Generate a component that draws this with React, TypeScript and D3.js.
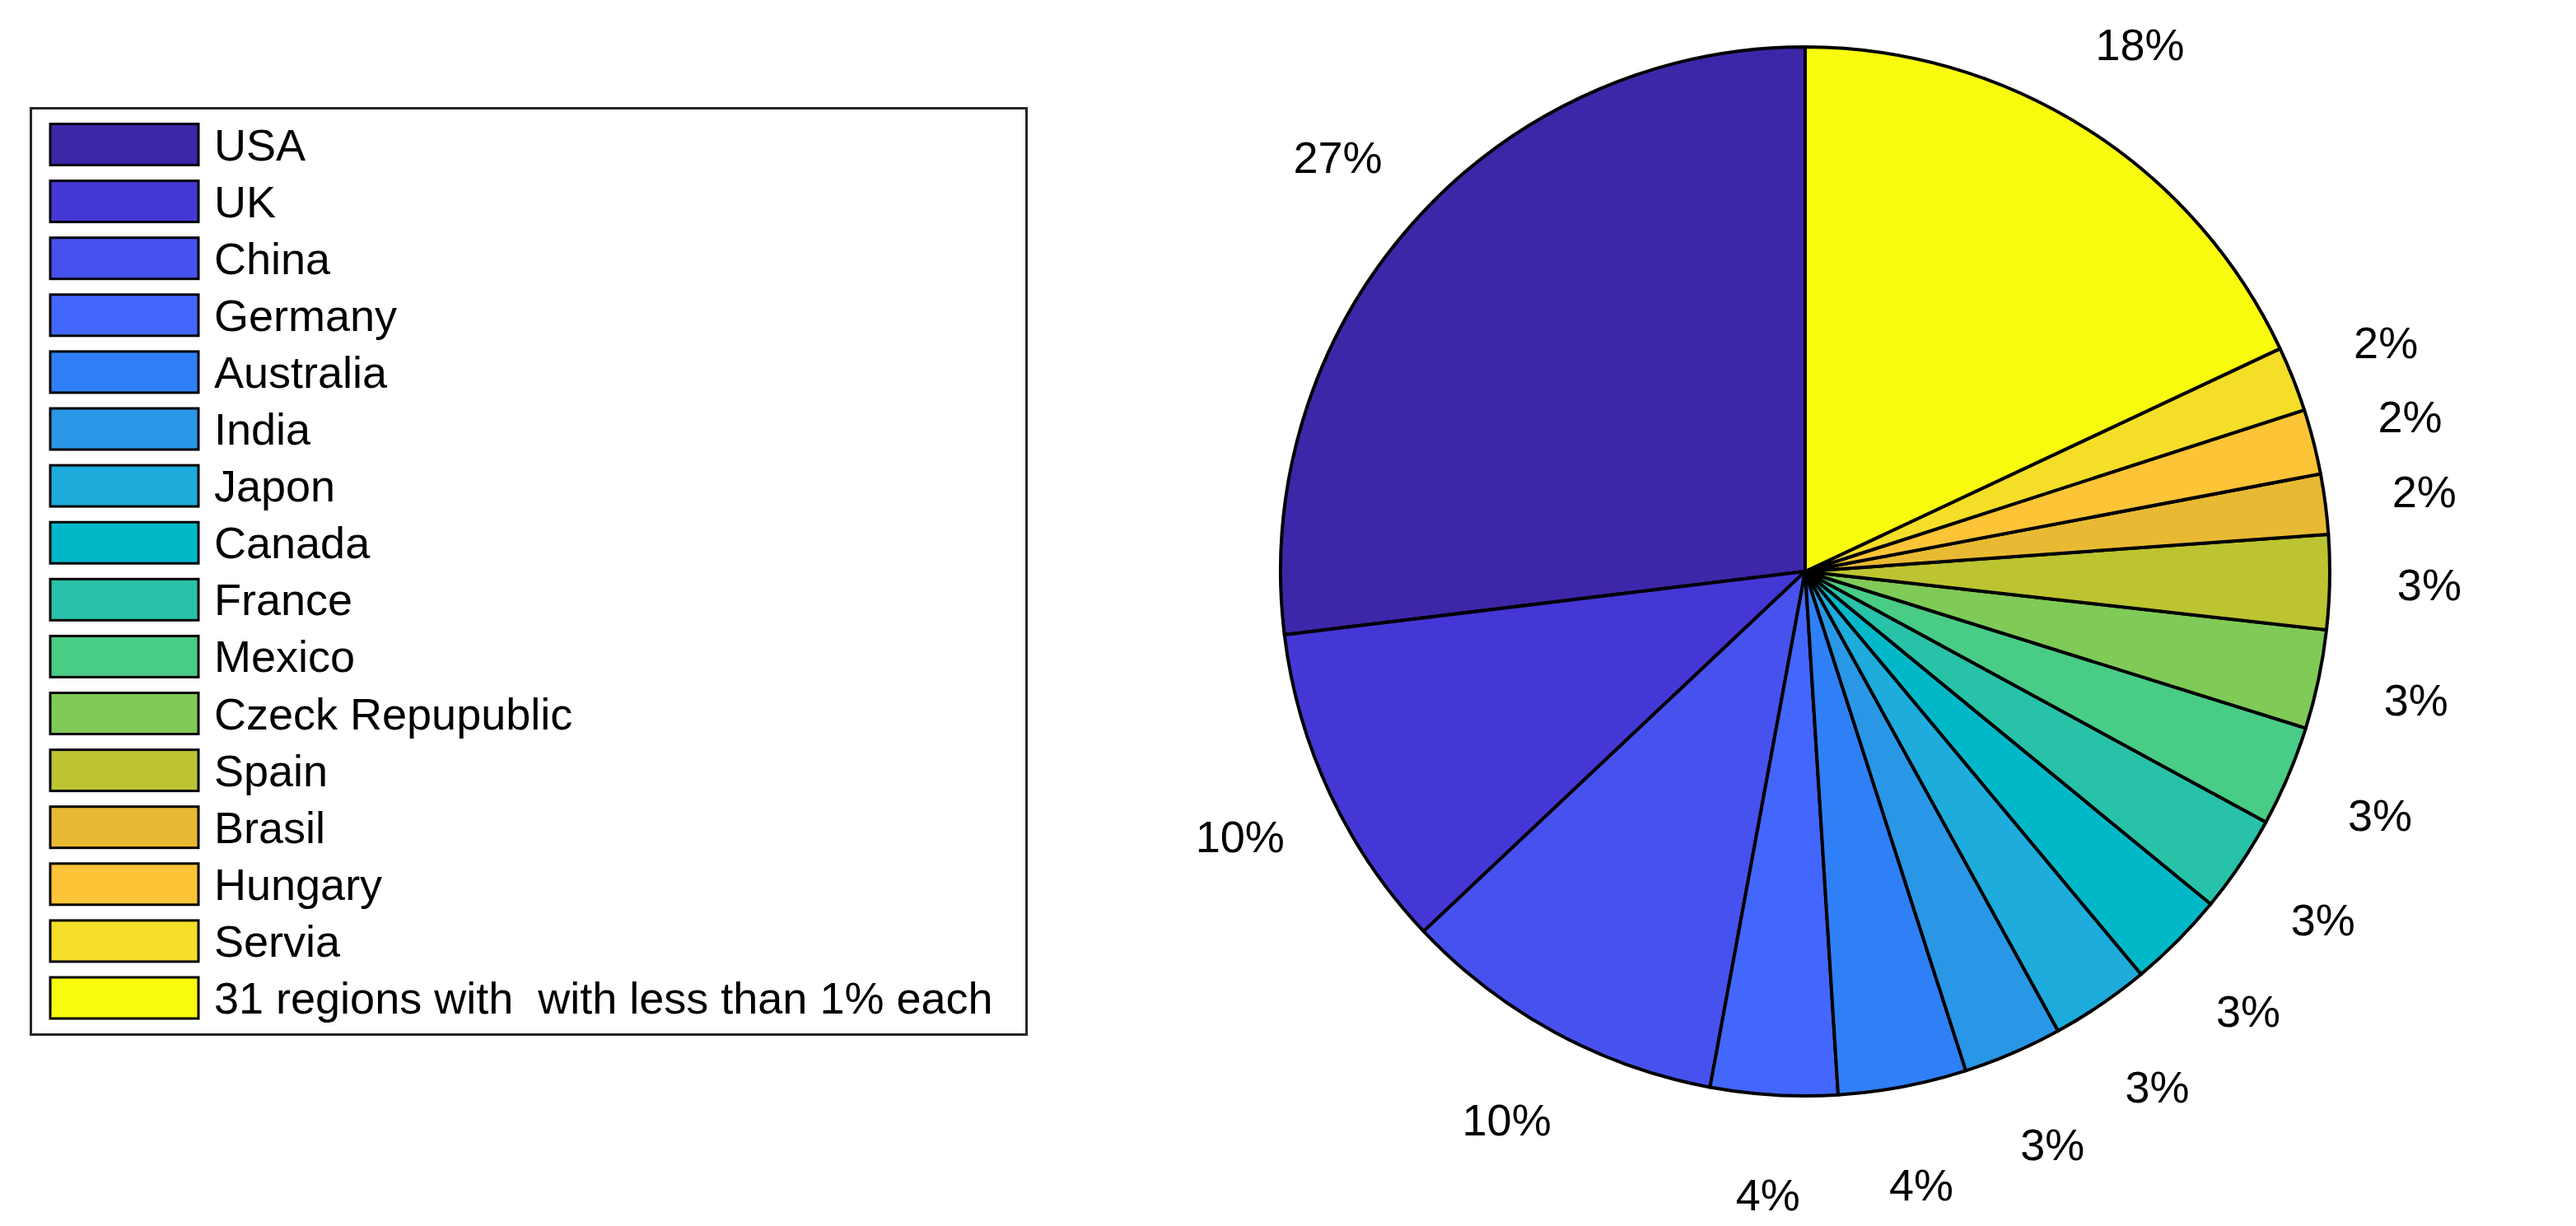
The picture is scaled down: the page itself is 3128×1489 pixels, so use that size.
import React from "react";
import * as d3 from "d3";

const categories = [
  "USA", "UK", "China", "Germany", "Australia", "India", "Japon", "Canada",
  "France", "Mexico", "Czeck Repupublic", "Spain", "Brasil", "Hungary", "Servia",
  "31 regions with  with less than 1% each",
];
const values = [26.9, 10.1, 10.05, 3.9, 3.95, 3.05, 3.05, 3.0, 3.0, 3.1, 3.05, 2.9, 1.85, 2.0, 2.0, 18.0];
const colors = [
  "#3E26A8", "#4537D5", "#4751EE", "#4367FD", "#2F80F7", "#2997E6", "#1DACDC", "#01B8C9",
  "#28C2A9", "#48CC86", "#80CA58", "#BCC432", "#E8BA33", "#FEC437", "#F5DE28", "#F9FB0E",
];

const W = 3128, H = 1489;
const CX = 2192, CY = 694, R = 637;
const FONT = "'Liberation Sans', Arial, Helvetica, sans-serif";

export default function App() {
  const total = d3.sum(values);
  const pie = d3.pie<number>().sort(null).startAngle(0).endAngle(-2 * Math.PI);
  const arcs = pie(values);
  const arc = d3.arc<d3.PieArcDatum<number>>().innerRadius(0).outerRadius(R);

  const rowY = d3.scaleLinear().domain([0, categories.length - 1]).range([175.5, 1212]);

  return (
    <svg width={W} height={H} style={{ position: "absolute", left: 0, top: 0, background: "#fff" }}>
      <rect x={0} y={0} width={W} height={H} fill="#fff" />
      {/* Pie */}
      <g transform={`translate(${CX},${CY})`}>
        {arcs.map((a, i) => (
          <path key={i} d={arc(a) || ""} fill={colors[i]} stroke="#000" strokeWidth={4} strokeLinejoin="round" />
        ))}
        {arcs.map((a, i) => {
          const m = (a.startAngle + a.endAngle) / 2;
          const rr = 1.19 * R;
          return (
            <text key={"t" + i} x={rr * Math.sin(m)} y={-rr * Math.cos(m)} textAnchor="middle"
              dominantBaseline="central" fontFamily={FONT} fontSize={54} fill="#000">
              {Math.round((values[i] / total) * 100) + "%"}
            </text>
          );
        })}
      </g>
      {/* Legend */}
      <rect x={37.5} y={131.5} width={1209} height={1125} fill="#fff" stroke="#262626" strokeWidth={3} />
      {categories.map((c, i) => (
        <g key={"l" + i}>
          <rect x={61} y={rowY(i) - 25} width={180} height={50} fill={colors[i]} stroke="#000" strokeWidth={3} />
          <text x={260} y={rowY(i)} dominantBaseline="central" fontFamily={FONT} fontSize={54} fill="#000"
            style={{ whiteSpace: "pre" }} xmlSpace="preserve">
            {c}
          </text>
        </g>
      ))}
    </svg>
  );
}
